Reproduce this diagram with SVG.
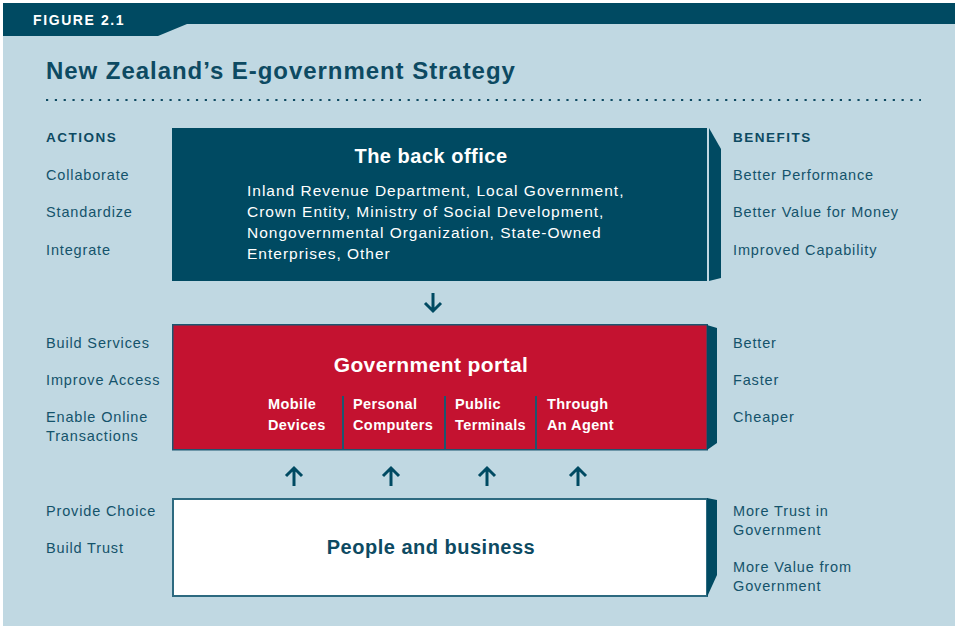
<svg xmlns="http://www.w3.org/2000/svg" width="955" height="629" viewBox="0 0 955 629">
<style>
.lbl{font-family:"Liberation Sans",Arial,sans-serif;font-size:14.5px;fill:#14536b;letter-spacing:0.85px}
.hd{font-family:"Liberation Sans",Arial,sans-serif;font-size:13.5px;font-weight:bold;fill:#0d4a62;letter-spacing:1.5px}
.ttl{font-family:"Liberation Sans",Arial,sans-serif;font-size:20px;font-weight:bold;fill:#ffffff;text-anchor:middle;letter-spacing:0.5px}
.body{font-family:"Liberation Sans",Arial,sans-serif;font-size:15.5px;fill:#ffffff;letter-spacing:1px}
.sub{font-family:"Liberation Sans",Arial,sans-serif;font-size:14.5px;font-weight:bold;fill:#ffffff;letter-spacing:0.4px}
.side{fill:#004a62}
.arr{fill:none;stroke:#004a62;stroke-width:3}
</style>
<rect x="0" y="0" width="955" height="629" fill="#ffffff"/>
<rect x="3" y="3" width="952" height="623" fill="#c0d8e2"/>
<path d="M3 3H955V24H187L158 36H3Z" fill="#004a62"/>
<text x="33" y="25" font-family="Liberation Sans,Arial,sans-serif" font-size="14" font-weight="bold" fill="#ffffff" letter-spacing="1.6">FIGURE 2.1</text>
<text x="46" y="79" font-family="Liberation Sans,Arial,sans-serif" font-size="24" font-weight="bold" fill="#0d4a62" letter-spacing="0.95">New Zealand’s E-government Strategy</text>
<line x1="46" y1="100" x2="921" y2="100" stroke="#0d4a62" stroke-width="2.2" stroke-dasharray="2.2 6.62"/>

<g id="actions">
<text class="hd" x="46" y="142">ACTIONS</text>
<text class="lbl" x="46" y="180">Collaborate</text>
<text class="lbl" x="46" y="217">Standardize</text>
<text class="lbl" x="46" y="255">Integrate</text>
<text class="lbl" x="46" y="348">Build Services</text>
<text class="lbl" x="46" y="385">Improve Access</text>
<text class="lbl" x="46" y="422">Enable Online</text>
<text class="lbl" x="46" y="441">Transactions</text>
<text class="lbl" x="46" y="516">Provide Choice</text>
<text class="lbl" x="46" y="553">Build Trust</text>
</g>

<g id="benefits">
<text class="hd" x="733" y="142">BENEFITS</text>
<text class="lbl" x="733" y="180">Better Performance</text>
<text class="lbl" x="733" y="217">Better Value for Money</text>
<text class="lbl" x="733" y="255">Improved Capability</text>
<text class="lbl" x="733" y="348">Better</text>
<text class="lbl" x="733" y="385">Faster</text>
<text class="lbl" x="733" y="422">Cheaper</text>
<text class="lbl" x="733" y="516">More Trust in</text>
<text class="lbl" x="733" y="535">Government</text>
<text class="lbl" x="733" y="572">More Value from</text>
<text class="lbl" x="733" y="591">Government</text>
</g>

<g id="back-office">
<rect x="172" y="128" width="535" height="153" fill="#004a62"/>
<path class="side" d="M709 128L721 149V278L709 281Z"/>
<text class="ttl" x="431" y="163">The back office</text>
<text class="body" x="247" y="196">Inland Revenue Department, Local Government,</text>
<text class="body" x="247" y="217">Crown Entity, Ministry of Social Development,</text>
<text class="body" x="247" y="238">Nongovernmental Organization, State-Owned</text>
<text class="body" x="247" y="259">Enterprises, Other</text>
</g>

<g id="portal">
<rect x="172.75" y="324.75" width="534.5" height="125" fill="#c41230" stroke="#1d5670" stroke-width="1.5"/>
<path class="side" d="M707 325L717 328V443L707 450Z"/>
<text class="ttl" x="431" y="372" style="font-size:21px;letter-spacing:0.4px">Government portal</text>
<g stroke="#1d5670" stroke-width="2">
<line x1="343" y1="396" x2="343" y2="450"/>
<line x1="445" y1="396" x2="445" y2="450"/>
<line x1="536" y1="396" x2="536" y2="450"/>
</g>
<text class="sub" x="268" y="409">Mobile</text>
<text class="sub" x="268" y="430">Devices</text>
<text class="sub" x="353" y="409">Personal</text>
<text class="sub" x="353" y="430">Computers</text>
<text class="sub" x="455" y="409">Public</text>
<text class="sub" x="455" y="430">Terminals</text>
<text class="sub" x="547" y="409">Through</text>
<text class="sub" x="547" y="430">An Agent</text>
</g>

<g id="people">
<rect x="173" y="499" width="534" height="97" fill="#ffffff" stroke="#2d6a80" stroke-width="2"/>
<path class="side" d="M707 498L717 500V575L707 597Z"/>
<text class="ttl" x="431" y="554" style="fill:#0d4a62">People and business</text>
</g>

<g id="connectors">
<path class="arr" d="M433 293V311M425 303L433 311L441 303"/>
<path class="arr" d="M294 486V468M286 476L294 468L302 476"/>
<path class="arr" d="M391 486V468M383 476L391 468L399 476"/>
<path class="arr" d="M487 486V468M479 476L487 468L495 476"/>
<path class="arr" d="M578 486V468M570 476L578 468L586 476"/>
</g>
</svg>
